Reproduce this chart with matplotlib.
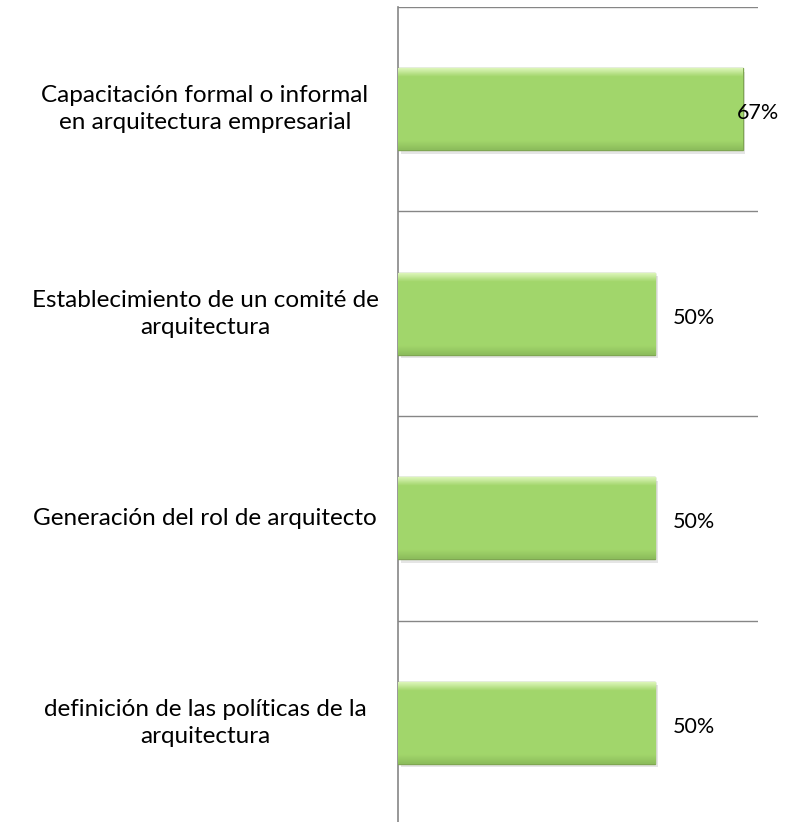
import matplotlib
matplotlib.use('Agg')
import matplotlib.pyplot as plt
import matplotlib.patheffects as pe
import matplotlib.transforms as mtransforms
import numpy as np

# datos del gráfico
categorias = ['Capacitación formal o informal\nen arquitectura empresarial',
              'Establecimiento de un comité de\narquitectura',
              'Generación del rol de arquitecto',
              'definición de las políticas de la\narquitectura']
valores = [0.67, 0.50, 0.50, 0.50]
etiquetas = ['67%', '50%', '50%', '50%']

plt.rcParams['font.family'] = ['Lato', 'DejaVu Sans']

fig = plt.figure(figsize=(7.92, 8.22), dpi=100)
ax = fig.add_axes([398 / 792, -3 / 822, 360 / 792, 818 / 822])

y = np.arange(len(categorias))
barras = ax.barh(y, valores, height=0.4, color='#a2d66b', edgecolor='#7fa652',
                 linewidth=1, zorder=3,
                 path_effects=[pe.SimplePatchShadow(offset=(2, -2.5), alpha=0.15,
                                                     shadow_rgbFace='#555555'),
                               pe.Normal()])

# degradado tipo bisel dentro de cada barra
grad = np.ones((100, 1, 3))
claro = np.array([0.86, 0.96, 0.72])
medio = np.array([0.635, 0.84, 0.42])
oscuro = np.array([0.55, 0.74, 0.36])
for i in range(100):
    if i < 10:
        t = i / 10
        grad[i, 0] = claro * (1 - t) + medio * t
    elif i > 88:
        t = (i - 88) / 11
        grad[i, 0] = medio * (1 - t) + oscuro * t
    else:
        grad[i, 0] = medio
for b in barras:
    x0, y0 = b.get_x(), b.get_y()
    w, h = b.get_width(), b.get_height()
    im = ax.imshow(grad, extent=(x0, x0 + w, y0 + h, y0), aspect='auto',
                   interpolation='bilinear', zorder=3.5)
    im.set_clip_path(b)

ax.set_xlim(0, 0.70)
ax.set_ylim(len(categorias) - 0.5, -0.5)
ax.set_yticks([])
ax.set_xticks([])
ax.set_yticks(np.arange(len(categorias) + 1) - 0.5, minor=True)
ax.tick_params(axis='y', which='minor', length=0)
ax.grid(True, which='minor', axis='y', color='#868686', linewidth=1, zorder=0)
ax.set_aspect('auto')

for s in ['top', 'right', 'bottom']:
    ax.spines[s].set_visible(False)
ax.spines['left'].set_color('#868686')
ax.spines['left'].set_linewidth(1.2)

# etiquetas de categoría centradas a la izquierda
trans = mtransforms.blended_transform_factory(ax.transAxes, ax.transData)
for yi, cat in zip(y, categorias):
    ax.text(-0.536, yi, cat, transform=trans, ha='center', va='center',
            multialignment='center', fontsize=17.5, color='#000000',
            linespacing=1.38)

# etiquetas de valor
for yi, v, et in zip(y, valores, etiquetas):
    desp = 13 if v < 0.6 else -4
    ax.annotate(et, (v, yi), xytext=(desp, -3), textcoords='offset points',
                ha='left', va='center', fontsize=15.5, color='#000000',
                zorder=5, annotation_clip=False)

fig.savefig('out.png', dpi=100)
